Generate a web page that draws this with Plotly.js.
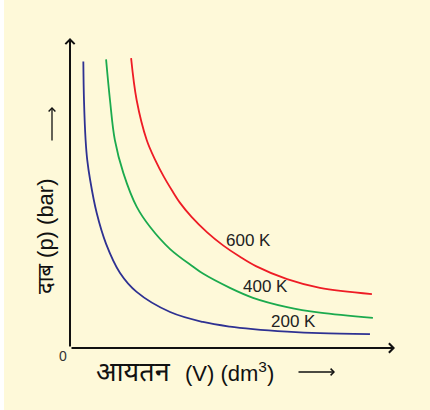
<!DOCTYPE html>
<html>
<head>
<meta charset="utf-8">
<script src="https://cdn.plot.ly/plotly-3.0.1.min.js"></script>
<style>html,body{margin:0;padding:0;background:#FEF9D9;}#chart{width:430px;height:410px;}</style>
</head>
<body>
<div id="chart"></div>
<script>
// Values (V in dm3, p in bar, arbitrary scale 0-10)
var v200 = [0.41, 0.43, 0.48, 0.53, 0.62, 0.82, 1.11, 1.54, 2.05, 3.08, 4.09, 4.92, 5.63, 6.68, 7.69, 9.23];
var p200 = [9.24, 8.00, 6.71, 6.07, 5.42, 4.36, 3.36, 2.42, 1.81, 1.16, 0.84, 0.69, 0.61, 0.53, 0.48, 0.45];

var v400 = [1.11, 1.23, 1.38, 1.64, 2.05, 2.46, 3.08, 3.79, 4.09, 4.92, 5.63, 6.68, 7.69, 9.32];
var p400 = [9.31, 8.00, 6.71, 5.65, 4.56, 3.91, 3.19, 2.62, 2.40, 1.94, 1.62, 1.32, 1.14, 0.97];

var v600 = [1.88, 2.05, 2.36, 2.62, 2.89, 3.14, 3.38, 3.74, 4.22, 4.71, 5.23, 5.72, 6.68, 7.69, 9.29];
var p600 = [9.35, 8.00, 6.71, 6.07, 5.52, 5.08, 4.69, 4.23, 3.73, 3.31, 2.94, 2.64, 2.22, 1.94, 1.74];

var curveLabels = ['200 K', '400 K', '600 K'];
var labelV = [6.89, 6.03, 5.48];
var labelP = [0.84, 2.00, 3.48];
var colors = ['#2E3192', '#1BAA4E', '#EE1C25'];

var xTitleHindi = 'आयतन';
var xTitleRest = '(V) (dm<sup>3</sup>)';
var yTitle = 'दाब (p) (bar)';
var originLabel = '0';

var series = [[v200, p200], [v400, p400], [v600, p600]];
var traces = series.map(function (s, i) {
  return {
    x: s[0], y: s[1], type: 'scatter', mode: 'lines',
    line: {color: colors[i], width: 1.8, shape: 'spline', smoothing: 1},
    hoverinfo: 'skip', showlegend: false
  };
});

var font = 'Liberation Sans, Arial, Noto Sans, sans-serif';
var annotations = [];
function px(x) { return (x - 70) / 325; }
function py(y) { return (348 - y) / 310; }
// axes with open arrowheads
annotations.push({x: 10, y: 0, ax: 0, ay: 0, xref: 'x', yref: 'y', axref: 'x', ayref: 'y',
  text: '', showarrow: true, arrowhead: 4, arrowsize: 0.9, arrowwidth: 2, arrowcolor: '#111'});
annotations.push({x: 0, y: 10, ax: 0, ay: 0, xref: 'x', yref: 'y', axref: 'x', ayref: 'y',
  text: '', showarrow: true, arrowhead: 4, arrowsize: 0.9, arrowwidth: 2, arrowcolor: '#111'});
// curve labels
curveLabels.forEach(function (t, i) {
  annotations.push({x: labelV[i], y: labelP[i], xref: 'x', yref: 'y', text: t, showarrow: false,
    xanchor: 'center', yanchor: 'middle', font: {family: font, size: 17, color: '#222'}});
});
// origin
annotations.push({x: 0, y: 0, xref: 'x', yref: 'y', text: originLabel, showarrow: false,
  xanchor: 'center', yanchor: 'middle', xshift: -7, yshift: -8, font: {family: font, size: 14, color: '#333'}});
// axis titles
annotations.push({x: px(133), y: py(372), xref: 'paper', yref: 'paper', xanchor: 'center', yanchor: 'middle',
  text: xTitleHindi, showarrow: false, font: {family: font, size: 27, color: '#111'}});
annotations.push({x: px(229), y: py(372), xref: 'paper', yref: 'paper', xanchor: 'center', yanchor: 'middle',
  text: xTitleRest, showarrow: false, font: {family: font, size: 22, color: '#111'}});
annotations.push({x: px(45), y: py(236), xref: 'paper', yref: 'paper', xanchor: 'center', yanchor: 'middle',
  text: yTitle, textangle: -90, showarrow: false, font: {family: font, size: 22, color: '#111'}});
// title arrows
annotations.push({x: px(335), y: py(372), xref: 'paper', yref: 'paper',
  ax: -38, ay: 0, text: '', showarrow: true, arrowhead: 4, arrowsize: 1, arrowwidth: 1.3, arrowcolor: '#111'});
annotations.push({x: px(52), y: py(107), xref: 'paper', yref: 'paper',
  ax: 0, ay: 35, text: '', showarrow: true, arrowhead: 4, arrowsize: 1, arrowwidth: 1.3, arrowcolor: '#111'});

var layout = {
  width: 430, height: 410,
  margin: {l: 70, r: 35, t: 38, b: 62, pad: 0},
  paper_bgcolor: '#FEF9D9', plot_bgcolor: '#FEF9D9',
  xaxis: {range: [0, 10], showgrid: false, zeroline: false, showticklabels: false, showline: false, ticks: ''},
  yaxis: {range: [0, 10], showgrid: false, zeroline: false, showticklabels: false, showline: false, ticks: ''},
  annotations: annotations,
  shapes: [{type: 'rect', xref: 'paper', yref: 'paper', x0: -70 / 325, x1: -66 / 325, y0: -62 / 310, y1: 1 + 38 / 310,
    line: {width: 0}, fillcolor: '#FFFFFF', layer: 'below'}]
};

Plotly.newPlot('chart', traces, layout, {displayModeBar: false, staticPlot: true});
</script>
</body>
</html>
